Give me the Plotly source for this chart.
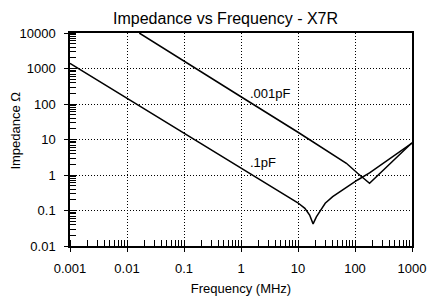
import plotly.graph_objects as go

# .1pF curve (frequency MHz, impedance ohm)
freq_1pf = [0.001, 0.01, 0.1, 1, 4.81, 9.93, 13.2, 16.0, 18.4, 21.0, 24.1, 30.0, 40.6, 55.0, 70.6, 111, 180, 1000]
z_1pf = [1400, 145, 15.0, 1.55, 0.33, 0.165, 0.115, 0.0747, 0.042, 0.066, 0.0925, 0.16, 0.245, 0.34, 0.422, 0.723, 1.14, 7.9]

# .001pF curve
freq_001pf = [0.0164, 0.1, 1, 10, 16.1, 40, 70.6, 111, 180, 1000]
z_001pf = [10000, 1600, 160, 16, 9.9, 3.9, 2.14, 1.12, 0.583, 8.1]

x_ticks = [0.001, 0.01, 0.1, 1, 10, 100, 1000]
x_labels = ["0.001", "0.01", "0.1", "1", "10", "100", "1000"]
y_ticks = [0.01, 0.1, 1, 10, 100, 1000, 10000]
y_labels = ["0.01", "0.1", "1", "10", "100", "1000", "10000"]

FONT = "Liberation Sans, Arial, Helvetica, sans-serif"

fig = go.Figure()
fig.add_trace(go.Scatter(x=freq_1pf, y=z_1pf, mode="lines",
                         line=dict(color="black", width=1.5), showlegend=False))
fig.add_trace(go.Scatter(x=freq_001pf, y=z_001pf, mode="lines",
                         line=dict(color="black", width=1.5), showlegend=False))

fig.add_annotation(x=0.122, y=2.31, xref="x", yref="y", text=".001pF",
                   showarrow=False, xanchor="left", yanchor="middle",
                   font=dict(family=FONT, size=13, color="black"))
fig.add_annotation(x=0.13, y=0.366, xref="x", yref="y", text=".1pF",
                   showarrow=False, xanchor="left", yanchor="middle",
                   font=dict(family=FONT, size=13, color="black"))
# y-axis title
fig.add_annotation(x=-0.159, y=0.54, xref="paper", yref="paper", text="Impedance Ω",
                   showarrow=False, xanchor="center", yanchor="middle", textangle=-90,
                   font=dict(family=FONT, size=13, color="black"))

axis_common = dict(
    showline=True, linecolor="black", linewidth=1.5, mirror=True,
    showgrid=True, gridcolor="black", griddash="1px,2px", gridwidth=1,
    ticks="outside", ticklen=4, tickcolor="black", tickwidth=1,
    zeroline=False,
    tickfont=dict(family=FONT, size=13, color="black"),
    minor=dict(ticks="inside", ticklen=6, tickcolor="black", tickwidth=1,
               showgrid=False, dtick="D1"),
)

fig.update_xaxes(type="log", range=[-3, 3], tickvals=x_ticks, ticktext=x_labels,
                 title=dict(text="Frequency (MHz)", font=dict(family=FONT, size=13, color="black"),
                            standoff=12),
                 ticklabelstandoff=6, **axis_common)
fig.update_yaxes(type="log", range=[-2, 4], tickvals=y_ticks, ticktext=y_labels,
                 ticklabelstandoff=6, **axis_common)

fig.update_layout(
    width=428, height=296,
    margin=dict(l=69.5, r=15.5, t=33, b=50, autoexpand=False),
    paper_bgcolor="white", plot_bgcolor="white",
    title=dict(text="Impedance vs Frequency - X7R", x=0.527, xanchor="center",
               y=1 - 18 / 296, yanchor="middle", yref="container",
               font=dict(family=FONT, size=16, color="black")),
    font=dict(family=FONT, color="black"),
)

fig.write_html("out.html", config={"displayModeBar": False},
               post_script="document.body.style.margin='0px';")
